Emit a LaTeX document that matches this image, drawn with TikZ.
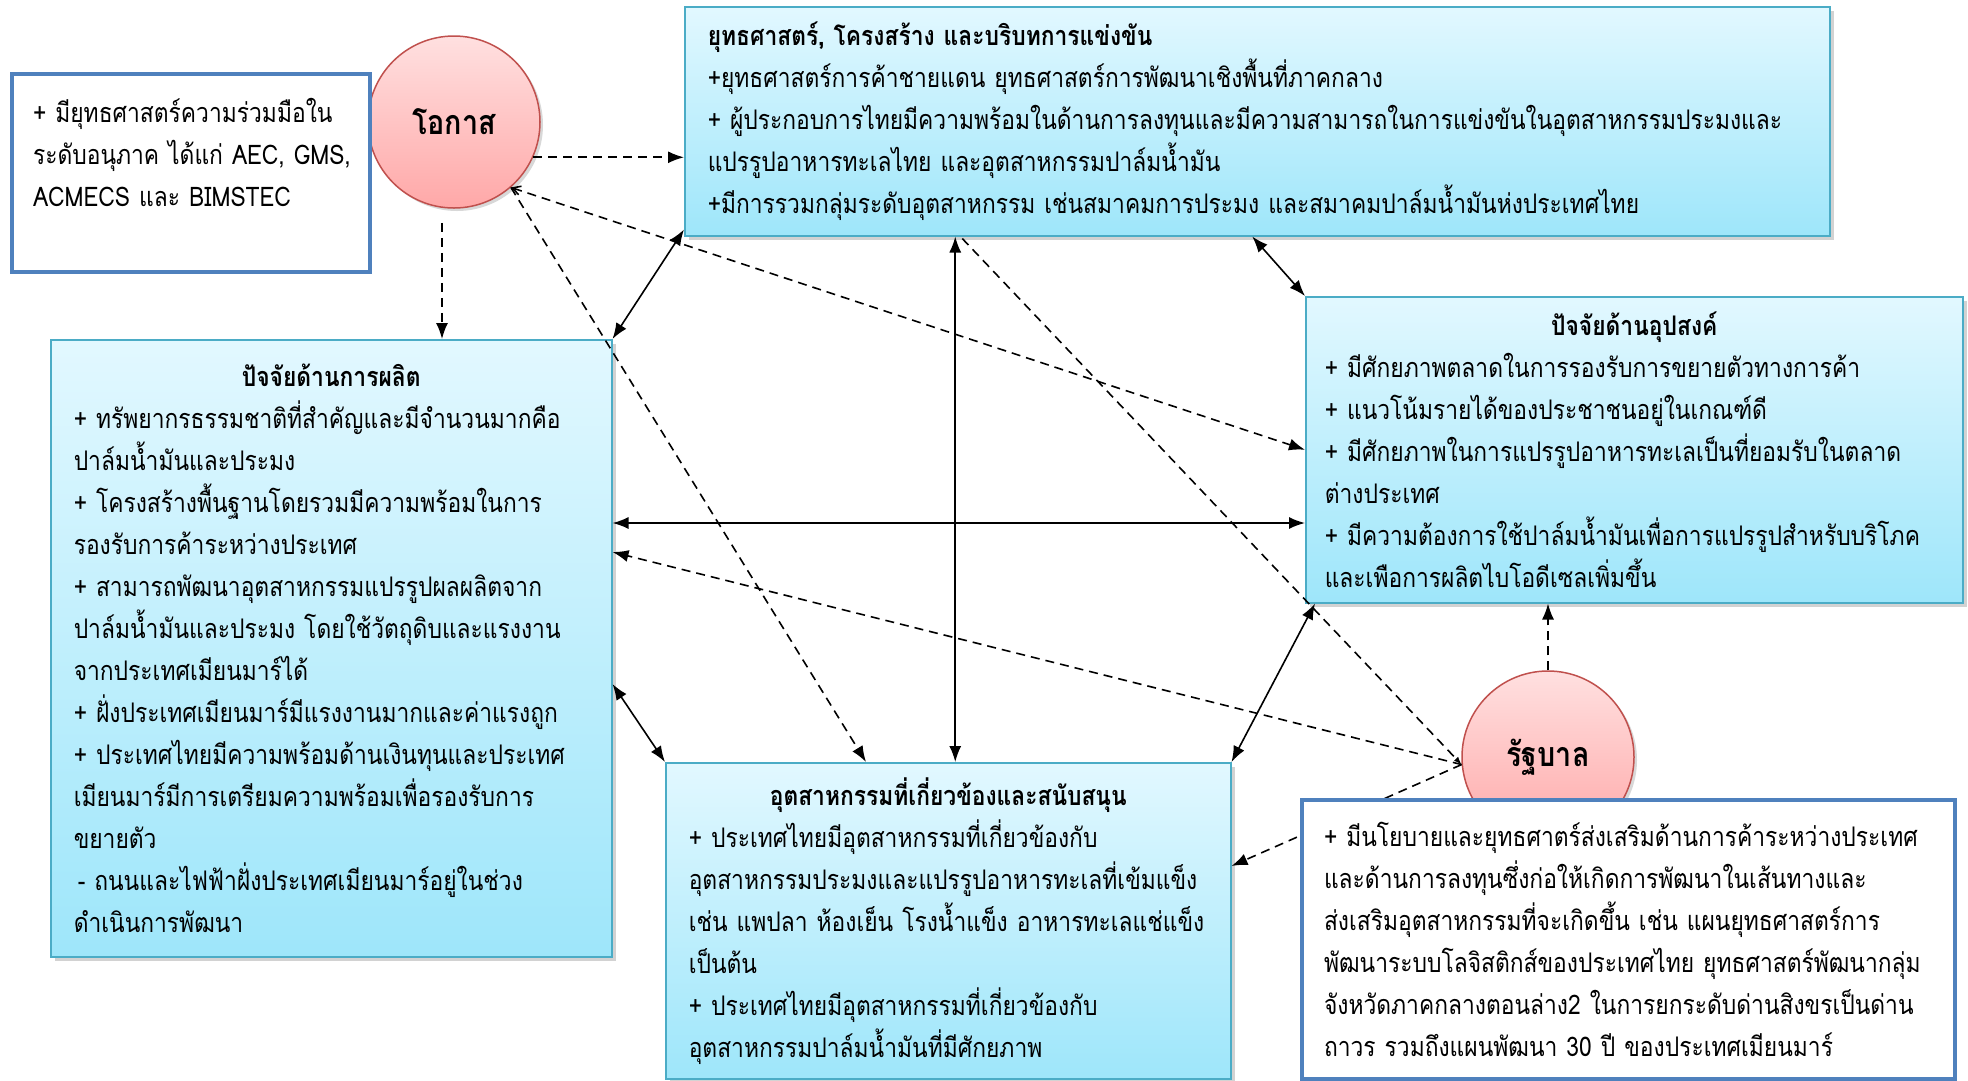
\documentclass[tikz,border=0pt]{standalone}
\usepackage{fontspec}
\newfontfamily\thai[Script=Thai,FakeStretch=0.845]{Loma}
\usetikzlibrary{arrows.meta,shadows,calc}
\definecolor{boxtop}{RGB}{226,248,255}
\definecolor{boxbot}{RGB}{158,230,250}
\definecolor{boxline}{RGB}{75,172,198}
\definecolor{circtop}{RGB}{255,224,224}
\definecolor{circbot}{RGB}{255,168,168}
\definecolor{circline}{RGB}{192,80,77}
\definecolor{wline}{RGB}{79,129,189}
\newcommand\bodyfont{\thai\fontsize{27}{42}\selectfont}
\newcommand\circfont{\thai\bfseries\fontsize{34}{40}\selectfont}
\begin{document}
\begin{tikzpicture}[x=1pt,y=-1pt,
  factor/.style={draw=boxline, line width=1.5pt, top color=boxtop, bottom color=boxbot,
    drop shadow={shadow xshift=4pt,shadow yshift=-4pt,opacity=0.35},
    inner xsep=23pt, inner ysep=0pt, align=left, font=\bodyfont, anchor=north west},
  wbox/.style={draw=wline, line width=4pt, fill=white, inner xsep=24pt, inner ysep=0pt,
    align=left, font=\bodyfont, anchor=north west},
  circ/.style={circle, draw=circline, line width=1.5pt, top color=circtop, bottom color=circbot,
    minimum size=172pt, inner sep=0pt, font=\circfont,
    drop shadow={shadow xshift=3pt,shadow yshift=-3pt,opacity=0.3}},
  biarrow/.style={{Latex[length=16pt,width=12pt]}-{Latex[length=16pt,width=12pt]}, line width=1.6pt},
  darrow/.style={-{Latex[length=16pt,width=12pt]}, line width=1.6pt, dash pattern=on 9pt off 6pt},
  dsmall/.style={-{Latex[length=8pt,width=6pt]}, line width=1.6pt, dash pattern=on 9pt off 6pt}]
\useasboundingbox (0,0) rectangle (1968,1080);
\fill[white] (0,0) rectangle (1968,1080);

\node[factor, minimum width=1145pt, minimum height=229pt, text width=1099pt] (T) at (684,6)
 {{\bfseries ยุทธศาสตร์, โครงสร้าง และบริบทการแข่งขัน}\\
 +ยุทธศาสตร์การค้าชายแดน ยุทธศาสตร์การพัฒนาเชิงพื้นที่ภาคกลาง\\
 + ผู้ประกอบการไทยมีความพร้อมในด้านการลงทุนและมีความสามารถในการแข่งขันในอุตสาหกรรมประมงและ\\
 แปรรูปอาหารทะเลไทย และอุตสาหกรรมปาล์มน้ำมัน\\
 +มีการรวมกลุ่มระดับอุตสาหกรรม เช่นสมาคมการประมง และสมาคมปาล์มน้ำมันห่งประเทศไทย};

\node[factor, inner xsep=19pt, minimum width=657pt, minimum height=306pt, text width=619pt] (R) at (1305,296)
 {{\centering\bfseries ปัจจัยด้านอุปสงค์\par}
 + มีศักยภาพตลาดในการรองรับการขยายตัวทางการค้า\\
 + แนวโน้มรายได้ของประชาชนอยู่ในเกณฑ์ดี\\
 + มีศักยภาพในการแปรรูปอาหารทะเลเป็นที่ยอมรับในตลาด\\
 ต่างประเทศ\\
 + มีความต้องการใช้ปาล์มน้ำมันเพื่อการแปรรูปสำหรับบริโภค\\
 และเพือการผลิตไบโอดีเซลเพิ่มขึ้น};

\node[factor, minimum width=561pt, minimum height=617pt, text width=515pt] (L) at (50,339)
 {{\centering\bfseries ปัจจัยด้านการผลิต\par}
 + ทรัพยากรธรรมชาติที่สำคัญและมีจำนวนมากคือ\\
 ปาล์มน้ำมันและประมง\\
 + โครงสร้างพื้นฐานโดยรวมมีความพร้อมในการ\\
 รองรับการค้าระหว่างประเทศ\\
 + สามารถพัฒนาอุตสาหกรรมแปรรูปผลผลิตจาก\\
 ปาล์มน้ำมันและประมง โดยใช้วัตถุดิบและแรงงาน\\
 จากประเทศเมียนมาร์ได้\\
 + ฝั่งประเทศเมียนมาร์มีแรงงานมากและค่าแรงถูก\\
 + ประเทศไทยมีความพร้อมด้านเงินทุนและประเทศ\\
 เมียนมาร์มีการเตรียมความพร้อมเพื่อรองรับการ\\
 ขยายตัว\\
 \hspace*{4pt}- ถนนและไฟฟ้าฝั่งประเทศเมียนมาร์อยู่ในช่วง\\
 ดำเนินการพัฒนา};

\node[factor, minimum width=565pt, minimum height=316pt, text width=519pt] (B) at (665,762)
 {{\centering\bfseries อุตสาหกรรมที่เกี่ยวข้องและสนับสนุน\par}
 + ประเทศไทยมีอุตสาหกรรมที่เกี่ยวข้องกับ\\
 อุตสาหกรรมประมงและแปรรูปอาหารทะเลที่เข้มแข็ง\\
 เช่น แพปลา ห้องเย็น โรงน้ำแข็ง อาหารทะเลแช่แข็ง\\
 เป็นต้น\\
 + ประเทศไทยมีอุตสาหกรรมที่เกี่ยวข้องกับ\\
 อุตสาหกรรมปาล์มน้ำมันที่มีศักยภาพ};

\node[circ] (O) at (454,122) {โอกาส};
\node[circ] (G) at (1548,757) {รัฐบาล};

% diamond links
\coordinate (tl) at ([yshift=7pt]T.south west);
\draw[biarrow] (tl) -- (L.north east);
\draw[biarrow] ([xshift=-5pt]T.south) -- (R.north west);
\coordinate (lr) at ($(L.north east)+(0,184)$);
\draw[biarrow] (lr) -- (lr -| R.west);
\coordinate (tb) at ([xshift=7pt]B.north);
\coordinate (ttop) at (tb |- T.south);
\draw[biarrow] (ttop) -- (tb);
\coordinate (lb) at ($(L.north east)+(0,345)$);
\draw[biarrow] (lb) -- (B.north west);
\draw[biarrow] ([xshift=10pt]R.south west) -- (B.north east);

% opportunity links
\draw[darrow] (O.-24) -- (O.-24 -| T.west);
\coordinate (ol) at ([xshift=-12pt,yshift=-14pt]O.south);
\draw[darrow] (ol) -- (ol |- L.north);
\draw[darrow, {Straight Barb[length=8pt,width=9pt]}-{Latex[length=16pt,width=12pt]}] (O.-49) -- (R.west);
\draw[darrow] (O.-49) -- ([xshift=201pt]B.north west);

% government links
\draw[dsmall] ([xshift=7pt,yshift=-2pt]ttop) -- (G.185);
\draw[darrow] (G.185) -- ($(L.north east)+(0,213)$);
\draw[darrow] (G.185) -- ($(B.north east)+(0,104)$);
\draw[darrow] (G.north) -- (G.north |- R.south);

\node[wbox, inner xsep=21pt, minimum width=358pt, minimum height=198pt, text width=316pt] (W1) at (10,72)
 {\mbox{+ มียุทธศาสตร์ความร่วมมือใน}\\
 \mbox{ระดับอนุภาค ได้แก่ AEC, GMS,}\\
 \mbox{ACMECS และ BIMSTEC}\\
 \mbox{}};

\node[wbox, inner xsep=22pt, minimum width=653pt, minimum height=279pt, text width=609pt] (W2) at (1300,798)
 {+ มีนโยบายและยุทธศาตร์ส่งเสริมด้านการค้าระหว่างประเทศ\\
 และด้านการลงทุนซึ่งก่อให้เกิดการพัฒนาในเส้นทางและ\\
 ส่งเสริมอุตสาหกรรมที่จะเกิดขึ้น เช่น แผนยุทธศาสตร์การ\\
 พัฒนาระบบโลจิสติกส์ของประเทศไทย ยุทธศาสตร์พัฒนากลุ่ม\\
 จังหวัดภาคกลางตอนล่าง2 ในการยกระดับด่านสิงขรเป็นด่าน\\
 ถาวร รวมถึงแผนพัฒนา 30 ปี ของประเทศเมียนมาร์};
\end{tikzpicture}
\end{document}
